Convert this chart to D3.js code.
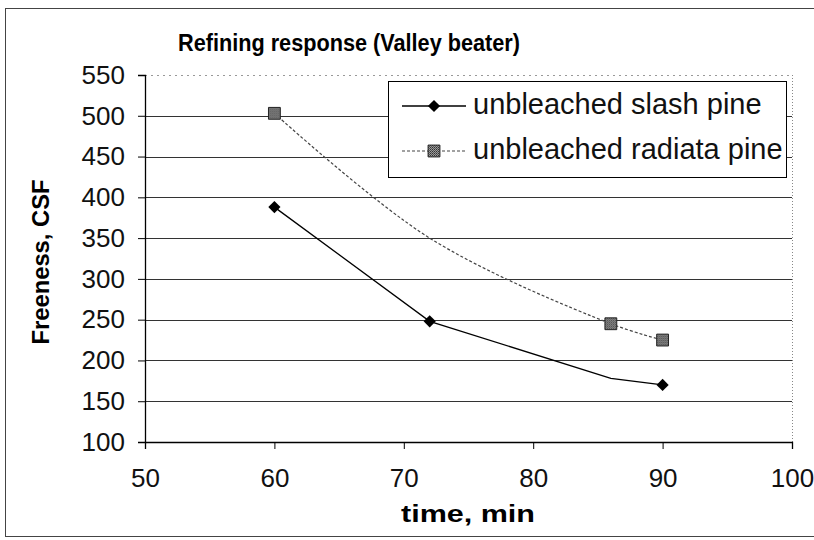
<!DOCTYPE html>
<html>
<head>
<meta charset="utf-8">
<script src="https://cdn.jsdelivr.net/npm/d3@7"></script>
<style>
  body { margin: 0; background: #fff; }
  svg { display: block; font-family: "Liberation Sans", Arial, sans-serif; }
</style>
</head>
<body>
<script>
// values
const times = [60, 72, 86, 90];
const slashPine = [388, 248, 178, 170];
const radiataPine = [503, 350, 245, 225];
// which points carry a visible marker in the scan
const slashMarked = [true, true, false, true];
const radiataMarked = [true, false, true, true];
const seriesNames = ["unbleached slash pine", "unbleached radiata pine"];
const xTicks = [50, 60, 70, 80, 90, 100];
const yTicks = [100, 150, 200, 250, 300, 350, 400, 450, 500, 550];

const W = 814, H = 540;
const plot = { left: 145, right: 792, top: 75, bottom: 442 };

const x = d3.scaleLinear().domain([50, 100]).range([plot.left, plot.right]);
const y = d3.scaleLinear().domain([100, 550]).range([plot.bottom, plot.top]);

const svg = d3.select("body").append("svg")
  .attr("width", W)
  .attr("height", H);

svg.append("rect").attr("width", W).attr("height", H).attr("fill", "#fff");

// texture for the grey square markers
const pat = svg.append("defs").append("pattern")
  .attr("id", "tex")
  .attr("width", 2).attr("height", 2)
  .attr("patternUnits", "userSpaceOnUse");
pat.append("rect").attr("width", 2).attr("height", 2).attr("fill", "#9a9a9a");
pat.append("rect").attr("width", 1).attr("height", 1).attr("fill", "#333");
pat.append("rect").attr("x", 1).attr("y", 1).attr("width", 1).attr("height", 1).attr("fill", "#555");

// outer chart frame
svg.append("rect")
  .attr("x", 5.5).attr("y", 8.5)
  .attr("width", 840).attr("height", 528)
  .attr("fill", "none")
  .attr("stroke", "#444")
  .attr("stroke-width", 1);

// title
svg.append("text")
  .attr("x", 349).attr("y", 51)
  .attr("text-anchor", "middle")
  .attr("font-weight", "bold")
  .attr("font-size", 23)
  .attr("textLength", 342)
  .attr("lengthAdjust", "spacingAndGlyphs")
  .text("Refining response (Valley beater)");

// gridlines
svg.append("g")
  .selectAll("line")
  .data(yTicks.filter(d => d > 100))
  .join("line")
  .attr("x1", plot.left).attr("x2", plot.right)
  .attr("y1", d => Math.round(y(d)) + 0.5)
  .attr("y2", d => Math.round(y(d)) + 0.5)
  .attr("stroke", d => d === 550 ? "#999" : "#333")
  .attr("stroke-dasharray", d => d === 550 ? "2,4" : null)
  .attr("stroke-width", 1);

// right plot edge, faint dotted
svg.append("line")
  .attr("x1", plot.right + 0.5).attr("x2", plot.right + 0.5)
  .attr("y1", plot.top).attr("y2", plot.bottom)
  .attr("stroke", "#888")
  .attr("stroke-dasharray", "1,2");

// axes
const yAxis = d3.axisLeft(y).tickValues(yTicks).tickSize(7).tickPadding(13);
const xAxis = d3.axisBottom(x).tickValues(xTicks).tickSize(7).tickPadding(20);

const gy = svg.append("g")
  .attr("transform", `translate(${plot.left},0)`)
  .call(yAxis);
const gx = svg.append("g")
  .attr("transform", `translate(0,${plot.bottom})`)
  .call(xAxis);

[gy, gx].forEach(g => {
  g.select(".domain").attr("stroke", "#000").attr("stroke-width", 1.3);
  g.selectAll(".tick line").attr("stroke", "#000");
  g.selectAll(".tick text")
    .attr("font-size", 26)
    .attr("fill", "#111")
    .attr("font-family", "Liberation Sans, Arial, sans-serif");
});

// axis titles
svg.append("text")
  .attr("x", 468).attr("y", 522)
  .attr("text-anchor", "middle")
  .attr("font-weight", "bold")
  .attr("font-size", 23)
  .attr("textLength", 134)
  .attr("lengthAdjust", "spacingAndGlyphs")
  .text("time, min");

svg.append("text")
  .attr("transform", "translate(49,262) rotate(-90)")
  .attr("text-anchor", "middle")
  .attr("font-weight", "bold")
  .attr("font-size", 24)
  .attr("textLength", 165)
  .attr("lengthAdjust", "spacingAndGlyphs")
  .text("Freeness, CSF");

// lines
const slashLine = d3.line()
  .x(d => x(d[0]))
  .y(d => y(d[1]));
const radiataLine = d3.line()
  .x(d => x(d[0]))
  .y(d => y(d[1]))
  .curve(d3.curveCatmullRom.alpha(0.5));

const slashPts = times.map((t, i) => [t, slashPine[i], slashMarked[i]]);
const radiataPts = times.map((t, i) => [t, radiataPine[i], radiataMarked[i]]);

svg.append("path")
  .datum(radiataPts)
  .attr("d", radiataLine)
  .attr("fill", "none")
  .attr("stroke", "#444")
  .attr("stroke-width", 1.2)
  .attr("stroke-dasharray", "3,2");

svg.append("path")
  .datum(slashPts)
  .attr("d", slashLine)
  .attr("fill", "none")
  .attr("stroke", "#000")
  .attr("stroke-width", 1.3);

const diamond = d3.symbol().type(d3.symbolDiamond2).size(95);
const square = d3.symbol().type(d3.symbolSquare).size(140);

svg.append("g")
  .selectAll("path")
  .data(slashPts.filter(d => d[2]))
  .join("path")
  .attr("transform", d => `translate(${x(d[0])},${y(d[1])})`)
  .attr("d", diamond)
  .attr("fill", "#000");

svg.append("g")
  .selectAll("path")
  .data(radiataPts.filter(d => d[2]))
  .join("path")
  .attr("transform", d => `translate(${x(d[0])},${y(d[1])})`)
  .attr("d", square)
  .attr("fill", "url(#tex)")
  .attr("stroke", "#222")
  .attr("stroke-width", 1);

// legend
const legend = svg.append("g");
legend.append("rect")
  .attr("x", 388.5).attr("y", 81.5)
  .attr("width", 398).attr("height", 96)
  .attr("fill", "#fff")
  .attr("stroke", "#000")
  .attr("stroke-width", 1);

const rows = legend.selectAll("g")
  .data(seriesNames)
  .join("g")
  .attr("transform", (d, i) => `translate(0,${106 + i * 45})`);

rows.append("line")
  .attr("x1", 402).attr("x2", 466)
  .attr("stroke", (d, i) => i === 0 ? "#000" : "#444")
  .attr("stroke-width", (d, i) => i === 0 ? 1.3 : 1.2)
  .attr("stroke-dasharray", (d, i) => i === 0 ? null : "3,2");

rows.append("path")
  .attr("transform", "translate(434,0)")
  .attr("d", (d, i) => i === 0 ? diamond() : square())
  .attr("fill", (d, i) => i === 0 ? "#000" : "url(#tex)")
  .attr("stroke", (d, i) => i === 0 ? null : "#222");

rows.append("text")
  .attr("x", 473)
  .attr("y", 8)
  .attr("font-size", 29)
  .attr("fill", "#111")
  .text(d => d);
</script>
</body>
</html>
